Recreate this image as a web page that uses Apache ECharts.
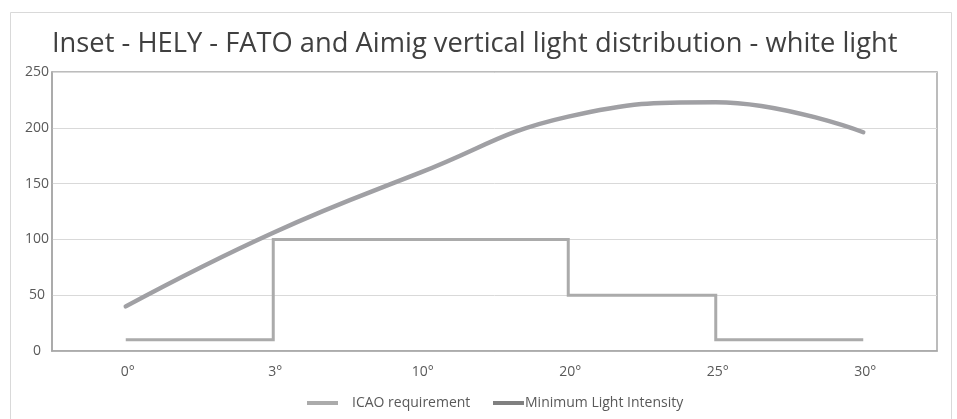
<!DOCTYPE html>
<html>
<head>
<meta charset="utf-8">
<script src="https://cdn.jsdelivr.net/npm/echarts@6/dist/echarts.min.js"></script>
<style>html,body{margin:0;padding:0;background:#fff}#c{width:957px;height:419px}</style>
</head>
<body>
<div id="c"></div>
<script>
var categories = ['0°', '3°', '10°', '20°', '25°', '30°'];
// ICAO requirement level for each interval between consecutive categories
var icaoIntervals = [10, 100, 100, 50, 10];
var minLightIntensity = [40, 106, 160, 210, 223, 196];
var yTicks = [0, 50, 100, 150, 200, 250];

var icaoData = [];
icaoIntervals.forEach(function (v, i) {
  icaoData.push([i, v]);
  icaoData.push([i + 1, v]);
});

var chart = echarts.init(document.getElementById('c'));
chart.setOption({
  animation: false,
  backgroundColor: '#fff',
  title: {
    text: 'Inset - HELY - FATO and Aimig vertical light distribution - white light',
    left: 52, top: 31, padding: 0,
    textStyle: { fontFamily: 'Open Sans', fontSize: 27.3, fontWeight: 'normal', color: '#404040' }
  },
  graphic: [{
    type: 'rect', shape: { x: 10.5, y: 12.5, width: 941, height: 420 },
    style: { fill: 'none', stroke: '#d9d9d9', lineWidth: 1 }, silent: true
  }],
  grid: { left: 52, right: 20, top: 72, bottom: 68, show: true, borderColor: '#a6a6a6', borderWidth: 1.5, backgroundColor: 'transparent' },
  legend: [{
    left: 307, top: 396, padding: 0, itemWidth: 31, itemHeight: 4,
    data: [{ name: 'ICAO requirement', icon: 'rect', itemStyle: { color: '#ababab' } }],
    textStyle: { fontFamily: 'Open Sans', fontSize: 14, color: '#595959', padding: [0, 0, 0, 9] }
  }, {
    left: 493, top: 396, padding: 0, itemWidth: 31, itemHeight: 4,
    data: [{ name: 'Minimum Light Intensity', icon: 'rect', itemStyle: { color: '#808080' } }],
    textStyle: { fontFamily: 'Open Sans', fontSize: 14, color: '#595959', padding: [0, 0, 0, -4] }
  }],
  xAxis: {
    type: 'category', data: categories, boundaryGap: true,
    axisLine: { lineStyle: { color: '#a6a6a6', width: 1.5 } },
    axisTick: { show: false },
    axisLabel: { fontFamily: 'Open Sans', fontSize: 14, color: '#595959', margin: 14, padding: [0, 0, 0, 4] },
    splitLine: { show: false }
  },
  yAxis: {
    type: 'value', min: 0, max: 250, interval: 50,
    axisLine: { show: true, lineStyle: { color: '#a6a6a6', width: 1.5 } },
    axisTick: { show: false },
    axisLabel: {
      fontFamily: 'Open Sans', fontSize: 14, color: '#595959', margin: 15, align: 'center',
      formatter: function (v) { return yTicks.indexOf(v) >= 0 ? String(v) : ''; }
    },
    splitLine: { lineStyle: { color: '#d9d9d9', width: 1 } }
  },
  series: [{
    name: 'ICAO requirement', type: 'line', data: icaoData,
    showSymbol: false, symbol: 'none', color: '#ababab',
    lineStyle: { color: '#ababab', width: 3, join: 'miter' }
  }, {
    name: 'Minimum Light Intensity', type: 'line', data: minLightIntensity,
    smooth: 0.45, showSymbol: false, symbol: 'none', color: '#808080',
    lineStyle: { color: '#a0a0a4', width: 4.5, cap: 'round' }
  }]
});
</script>
</body>
</html>
